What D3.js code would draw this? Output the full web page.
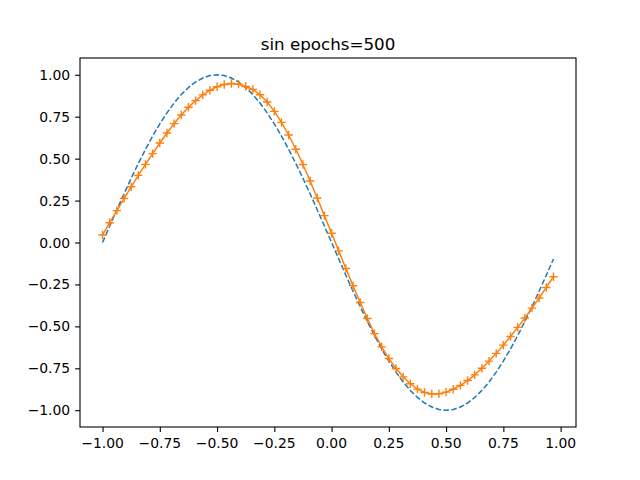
<!DOCTYPE html>
<html>
<head>
<meta charset="utf-8">
<script src="https://cdn.jsdelivr.net/npm/d3@7"></script>
<style>
  html, body { margin: 0; padding: 0; background: #fff; overflow: hidden; }
  svg { display: block; }
  text { font-family: "DejaVu Sans", sans-serif; }
</style>
</head>
<body>
<div id="chart"></div>
<script>
// x grid used for both curves
const xValues = [-1.00000,-0.96875,-0.93750,-0.90625,-0.87500,-0.84375,-0.81250,-0.78125,
  -0.75000,-0.71875,-0.68750,-0.65625,-0.62500,-0.59375,-0.56250,-0.53125,
  -0.50000,-0.46875,-0.43750,-0.40625,-0.37500,-0.34375,-0.31250,-0.28125,
  -0.25000,-0.21875,-0.18750,-0.15625,-0.12500,-0.09375,-0.06250,-0.03125,
  0.00000,0.03125,0.06250,0.09375,0.12500,0.15625,0.18750,0.21875,
  0.25000,0.28125,0.31250,0.34375,0.37500,0.40625,0.43750,0.46875,
  0.50000,0.53125,0.56250,0.59375,0.62500,0.65625,0.68750,0.71875,
  0.75000,0.78125,0.81250,0.84375,0.87500,0.90625,0.93750,0.96875];

// target curve (blue dashed)
const targetValues = [0.0000,0.0980,0.1951,0.2903,0.3827,0.4714,0.5556,0.6344,
  0.7071,0.7730,0.8315,0.8819,0.9239,0.9569,0.9808,0.9952,
  1.0000,0.9952,0.9808,0.9569,0.9239,0.8819,0.8315,0.7730,
  0.7071,0.6344,0.5556,0.4714,0.3827,0.2903,0.1951,0.0980,
  0.0000,-0.0980,-0.1951,-0.2903,-0.3827,-0.4714,-0.5556,-0.6344,
  -0.7071,-0.7730,-0.8315,-0.8819,-0.9239,-0.9569,-0.9808,-0.9952,
  -1.0000,-0.9952,-0.9808,-0.9569,-0.9239,-0.8819,-0.8315,-0.7730,
  -0.7071,-0.6344,-0.5556,-0.4714,-0.3827,-0.2903,-0.1951,-0.0980];

// prediction after 500 epochs (orange, + markers)
const predValues = [0.045,0.118,0.190,0.262,0.332,0.400,0.466,0.530,
  0.593,0.653,0.709,0.760,0.806,0.846,0.880,0.908,
  0.929,0.942,0.948,0.944,0.930,0.912,0.881,0.838,
  0.782,0.716,0.641,0.556,0.465,0.367,0.265,0.160,
  0.055,-0.050,-0.155,-0.258,-0.358,-0.453,-0.543,-0.622,
  -0.692,-0.751,-0.801,-0.842,-0.874,-0.894,-0.903,-0.902,
  -0.892,-0.875,-0.852,-0.823,-0.789,-0.750,-0.707,-0.661,
  -0.612,-0.560,-0.506,-0.450,-0.391,-0.331,-0.268,-0.204];

const xTicks = [-1, -0.75, -0.5, -0.25, 0, 0.25, 0.5, 0.75, 1];
const yTicks = [-1, -0.75, -0.5, -0.25, 0, 0.25, 0.5, 0.75, 1];
const titleText = "sin epochs=500";

const width = 640, height = 480;
const margin = { top: 58, right: 64, bottom: 53, left: 80 };
const innerWidth = width - margin.left - margin.right;
const innerHeight = height - margin.top - margin.bottom;
const fmt = d3.format(".2f");

const svg = d3.select("#chart")
  .append("svg")
    .attr("width", width)
    .attr("height", height)
    .attr("viewBox", `0 0 ${width} ${height}`);

const g = svg.append("g")
    .attr("transform", `translate(${margin.left}, ${margin.top})`);

// matplotlib style 5% margins around the data
const xPad = (d3.max(xValues) - d3.min(xValues)) * 0.05;
const xScale = d3.scaleLinear()
  .domain([d3.min(xValues) - xPad, d3.max(xValues) + xPad])
  .range([0, innerWidth]);

const yMin = d3.min([...targetValues, ...predValues]);
const yMax = d3.max([...targetValues, ...predValues]);
const yPad = (yMax - yMin) * 0.05;
const yScale = d3.scaleLinear()
  .domain([yMin - yPad, yMax + yPad])
  .range([innerHeight, 0]);

const target = xValues.map((x, i) => ({ x: x, y: targetValues[i] }));
const pred = xValues.map((x, i) => ({ x: x, y: predValues[i] }));

const lineGenerator = d3.line()
  .x(d => xScale(d.x))
  .y(d => yScale(d.y));

// Blue dashed target
g.append("path")
    .datum(target)
    .attr("d", lineGenerator)
    .attr("fill", "none")
    .attr("stroke", "#1f77b4")
    .attr("stroke-width", 1.5)
    .attr("stroke-dasharray", "5.55,2.4");

// Orange prediction line
g.append("path")
    .datum(pred)
    .attr("d", lineGenerator)
    .attr("fill", "none")
    .attr("stroke", "#ff7f0e")
    .attr("stroke-width", 1.5);

// + markers
g.selectAll(".marker")
  .data(pred)
  .join("path")
    .attr("class", "marker")
    .attr("transform", d => `translate(${xScale(d.x)}, ${yScale(d.y)})`)
    .attr("d", "M-4.2,0H4.2M0,-4.2V4.2")
    .attr("stroke", "#ff7f0e")
    .attr("stroke-width", 1.4);

// Axes (ticks only, labels drawn below with absolute positions)
g.append("g")
    .attr("transform", `translate(0, ${innerHeight})`)
    .call(d3.axisBottom(xScale).tickValues(xTicks).tickFormat("")
      .tickSize(4.9).tickSizeOuter(0))
    .call(ax => ax.select(".domain").remove())
    .call(ax => ax.selectAll("line").attr("stroke", "#000").attr("stroke-width", 1.1));

g.append("g")
    .call(d3.axisLeft(yScale).tickValues(yTicks).tickFormat("")
      .tickSize(4.9).tickSizeOuter(0))
    .call(ax => ax.select(".domain").remove())
    .call(ax => ax.selectAll("line").attr("stroke", "#000").attr("stroke-width", 1.1));

// Tick labels
g.selectAll(".xlabel")
  .data(xTicks)
  .join("text")
    .attr("class", "xlabel")
    .text(d => fmt(d))
    .attr("x", d => xScale(d))
    .attr("y", innerHeight + 20.5)
    .attr("text-anchor", "middle")
    .style("font-size", "13.9px");

g.selectAll(".ylabel")
  .data(yTicks)
  .join("text")
    .attr("class", "ylabel")
    .text(d => fmt(d))
    .attr("x", -9.8)
    .attr("y", d => yScale(d) + 5)
    .attr("text-anchor", "end")
    .style("font-size", "13.9px");

// Frame
g.append("rect")
    .attr("width", innerWidth)
    .attr("height", innerHeight)
    .attr("fill", "none")
    .attr("stroke", "#000")
    .attr("stroke-width", 1.1);

// Title
svg.append("text")
    .text(titleText)
    .attr("x", margin.left + innerWidth / 2)
    .attr("y", margin.top - 8.3)
    .attr("text-anchor", "middle")
    .style("font-size", "16.7px");
</script>
</body>
</html>
